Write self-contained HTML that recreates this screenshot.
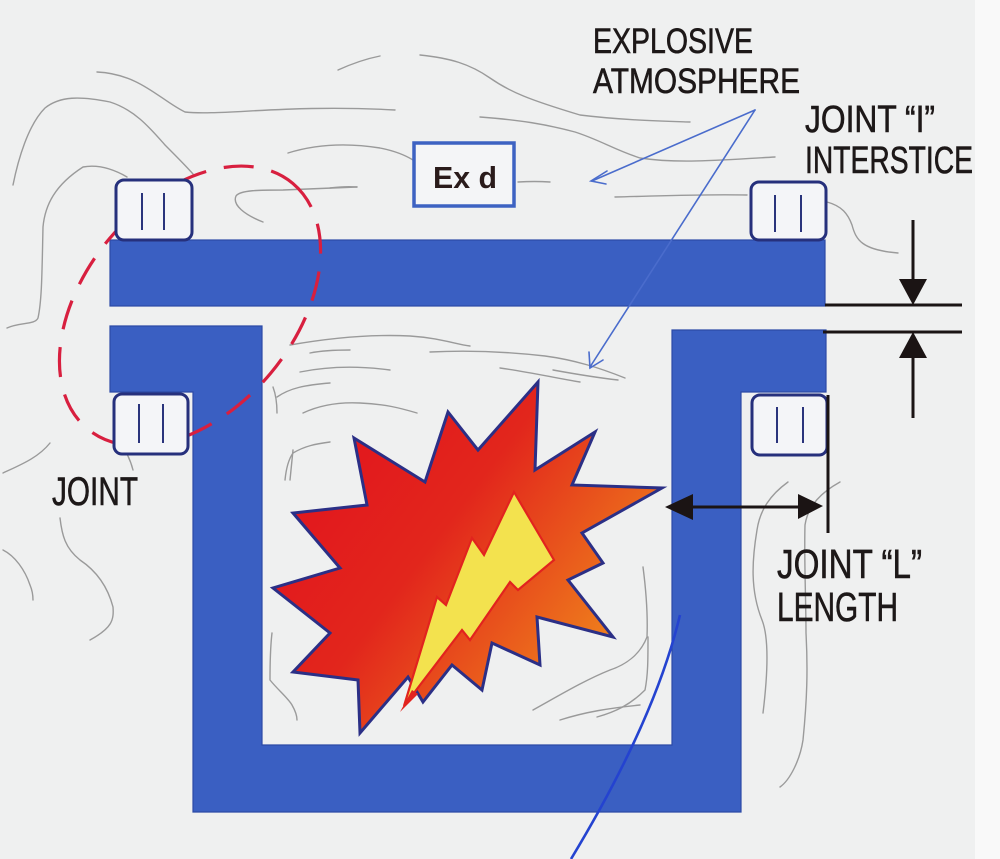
<!DOCTYPE html>
<html>
<head>
<meta charset="utf-8">
<style>
  html,body{margin:0;padding:0;background:#eff0f0;}
  body{width:1000px;height:859px;overflow:hidden;}
  svg{display:block;}
  .lbl{font-family:"Liberation Sans",Arial,sans-serif;fill:#1d1818;stroke:#1d1818;stroke-width:0.6;}
</style>
</head>
<body>
<svg width="1000" height="859" viewBox="0 0 1000 859" xmlns="http://www.w3.org/2000/svg">
  <defs>
    <linearGradient id="fire" x1="300" y1="420" x2="620" y2="660" gradientUnits="userSpaceOnUse">
      <stop offset="0" stop-color="#e2121e"/>
      <stop offset="0.45" stop-color="#e2261c"/>
      <stop offset="1" stop-color="#f0881c"/>
    </linearGradient>
  </defs>

  <!-- background -->
  <rect x="0" y="0" width="1000" height="859" fill="#eff0f0"/>
  <rect x="975" y="0" width="25" height="859" fill="#f9f9f9"/>

  <!-- sketchy atmosphere lines -->
  <g fill="none" stroke="#8c8c8c" stroke-width="1.4" stroke-linecap="round" opacity="0.85">
    <path d="M97,72 C140,74 160,100 185,112 C220,116 290,104 395,110"/>
    <path d="M338,70 Q360,60 380,56"/>
    <path d="M420,55 C450,58 470,64 490,78 C510,92 530,100 580,115 C620,120 660,121 690,122"/>
    <path d="M480,117 C520,120 545,124 575,132 C600,140 615,150 640,158 C680,164 720,160 775,157"/>
    <path d="M288,153 Q330,140 380,148 Q400,152 413,160"/>
    <path d="M330,188 Q345,186 357,187"/>
    <path d="M518,182 Q535,181 550,182"/>
    <path d="M615,197 C660,196 700,194 747,195"/>
    <path d="M13,185 C18,160 28,125 45,108 C60,96 80,96 110,102 C135,110 150,128 165,145 C178,158 186,166 193,174"/>
    <path d="M7,328 C20,322 35,325 38,318 C42,300 42,270 43,227 C45,205 55,185 83,167 C100,164 115,170 127,177"/>
    <path d="M263,222 C245,215 232,205 236,196 C240,190 260,190 283,190 C310,189 335,188 357,187"/>
    <path d="M827,202 C842,206 848,214 852,225 C856,240 862,250 898,253"/>
    <path d="M3,473 C20,465 38,458 50,443"/>
    <path d="M123,447 Q130,458 133,470"/>
    <path d="M60,518 C62,535 65,548 80,560 C98,572 108,588 113,607 C114,620 112,628 90,640"/>
    <path d="M3,550 C15,556 25,570 30,585 C33,592 33,598 33,600"/>
    <path d="M788,482 C770,495 760,510 757,530 C752,560 750,590 762,620 C770,640 767,680 763,713"/>
    <path d="M840,482 C822,492 808,505 805,525 C804,560 806,600 806,633 C808,670 807,700 803,740 C800,760 790,780 780,787"/>
    <!-- inside enclosure -->
    <path d="M277,397 C290,388 305,385 330,383"/>
    <path d="M303,413 C320,405 340,402 360,403 C385,404 400,408 417,413"/>
    <path d="M285,480 C286,470 288,460 293,453 C305,446 315,444 330,442"/>
    <path d="M290,345 C330,338 370,334 410,336 C440,338 455,344 470,346"/>
    <path d="M430,352 C470,350 510,352 545,356 C575,360 600,368 625,378"/>
    <path d="M500,368 C530,372 555,378 580,382"/>
    <path d="M553,370 C575,374 600,378 618,380"/>
    <path d="M300,372 C330,366 360,366 390,370"/>
    <path d="M643,567 C646,590 648,612 647,637 C640,655 625,665 610,670 C585,680 560,695 533,710"/>
    <path d="M648,637 C648,660 648,675 645,690 C630,705 615,712 597,717"/>
    <path d="M272,633 C270,650 270,665 270,680 C278,690 288,698 292,705 C296,712 297,716 297,720"/>
    <path d="M290,480 C291,470 292,460 293,450"/>
    <path d="M310,353 C325,350 340,350 350,350"/>
    <path d="M273,387 C276,395 277,405 277,413"/>
    <path d="M560,720 C585,712 610,708 640,705"/>
  </g>

  <!-- blue housing -->
  <g fill="#3a5fc2" stroke="#2c4aa6" stroke-width="1.2">
    <rect x="110" y="240" width="715" height="66"/>
    <path d="M110,326 L262,326 L262,745 L672,745 L672,330 L826,330 L826,392 L741,392 L741,812 L193,812 L193,392 L110,392 Z"/>
  </g>

  <!-- dashed red joint ellipse -->
  <ellipse cx="190" cy="306" rx="160" ry="105" transform="rotate(-50 190 306)"
           fill="none" stroke="#d81f3f" stroke-width="3.2" stroke-dasharray="30 18"/>

  <!-- joint blocks -->
  <g fill="#f4f5f8" stroke="#26307c" stroke-width="3">
    <rect x="116" y="180" width="76" height="60" rx="8"/>
    <rect x="114" y="394" width="74" height="60" rx="8"/>
    <rect x="751" y="182" width="75" height="58" rx="8"/>
    <rect x="752" y="395" width="75" height="60" rx="8"/>
  </g>
  <g stroke="#2a347c" stroke-width="2">
    <line x1="142" y1="193" x2="142" y2="230"/>
    <line x1="164" y1="193" x2="164" y2="230"/>
    <line x1="139" y1="404" x2="139" y2="443"/>
    <line x1="163" y1="404" x2="163" y2="443"/>
    <line x1="775" y1="195" x2="775" y2="232"/>
    <line x1="801" y1="195" x2="801" y2="232"/>
    <line x1="777" y1="407" x2="777" y2="443"/>
    <line x1="803" y1="407" x2="803" y2="443"/>
  </g>

  <!-- explosion star -->
  <polygon points="354,438 425,482 448,412 478,450 538,382 535,470 595,432 572,485 662,488 582,533 603,563 568,580 613,637 537,617 540,665 492,643 482,690 452,665 423,702 408,677 360,733 358,680 293,672 330,633 273,588 340,568 293,513 367,505"
           fill="url(#fire)" stroke="#2b2f86" stroke-width="3" stroke-linejoin="miter"/>
  <!-- lightning bolt -->
  <polygon points="514,492 554,560 518,590 510,582 470,640 462,630 404,706 437,597 446,605 472,538 484,555"
           fill="#f3e24e" stroke="#e2231e" stroke-width="2.2" stroke-linejoin="miter"/>
  <path d="M412,690 L400,712 L418,694 Z" fill="#e2231e"/>

  <!-- Ex d box -->
  <rect x="414" y="143" width="100" height="63" fill="#f4f5f7" stroke="#3d62c2" stroke-width="3.5"/>
  <text x="433" y="188" font-family="Liberation Sans, Arial, sans-serif" font-weight="bold" font-size="31" textLength="64" lengthAdjust="spacingAndGlyphs" fill="#2a1b1b">Ex d</text>

  <!-- blue pointer lines from EXPLOSIVE ATMOSPHERE -->
  <g stroke="#4a6ccc" stroke-width="1.6" fill="none" stroke-linecap="round">
    <line x1="755" y1="110" x2="592" y2="181"/>
    <path d="M607,171 L591,181 L606,184"/>
    <line x1="755" y1="110" x2="590" y2="367"/>
    <path d="M589,352 L590,368 L603,360"/>
  </g>

  <!-- long blue line bottom -->
  <path d="M680,615 Q655,720 571,859" fill="none" stroke="#2443d0" stroke-width="2.6"/>

  <!-- interstice dimension -->
  <g stroke="#1b1414" stroke-width="3" fill="#1b1414">
    <line x1="825" y1="305" x2="962" y2="305"/>
    <line x1="823" y1="332" x2="962" y2="332"/>
    <line x1="913" y1="220" x2="913" y2="282"/>
    <polygon points="899,279 927,279 913,305" stroke="none"/>
    <polygon points="899,358 927,358 913,332" stroke="none"/>
    <line x1="913" y1="355" x2="913" y2="418"/>
    <!-- L length -->
    <line x1="828" y1="395" x2="828" y2="533"/>
    <line x1="688" y1="507" x2="803" y2="507"/>
    <polygon points="665,507 693,494 693,520" stroke="none"/>
    <polygon points="823,506 798,494 798,519" stroke="none"/>
  </g>

  <!-- labels -->
  <text x="593" y="53" class="lbl" font-size="35" textLength="160" lengthAdjust="spacingAndGlyphs">EXPLOSIVE</text>
  <text x="593" y="93" class="lbl" font-size="35" textLength="207" lengthAdjust="spacingAndGlyphs">ATMOSPHERE</text>
  <text x="805" y="132" class="lbl" font-size="38" textLength="130" lengthAdjust="spacingAndGlyphs">JOINT “I”</text>
  <text x="805" y="173" class="lbl" font-size="38" textLength="168" lengthAdjust="spacingAndGlyphs">INTERSTICE</text>
  <text x="52" y="505" class="lbl" font-size="40" textLength="86" lengthAdjust="spacingAndGlyphs">JOINT</text>
  <text x="777" y="578" class="lbl" font-size="41" textLength="145" lengthAdjust="spacingAndGlyphs">JOINT “L”</text>
  <text x="777" y="621" class="lbl" font-size="41" textLength="121" lengthAdjust="spacingAndGlyphs">LENGTH</text>
</svg>
</body>
</html>
